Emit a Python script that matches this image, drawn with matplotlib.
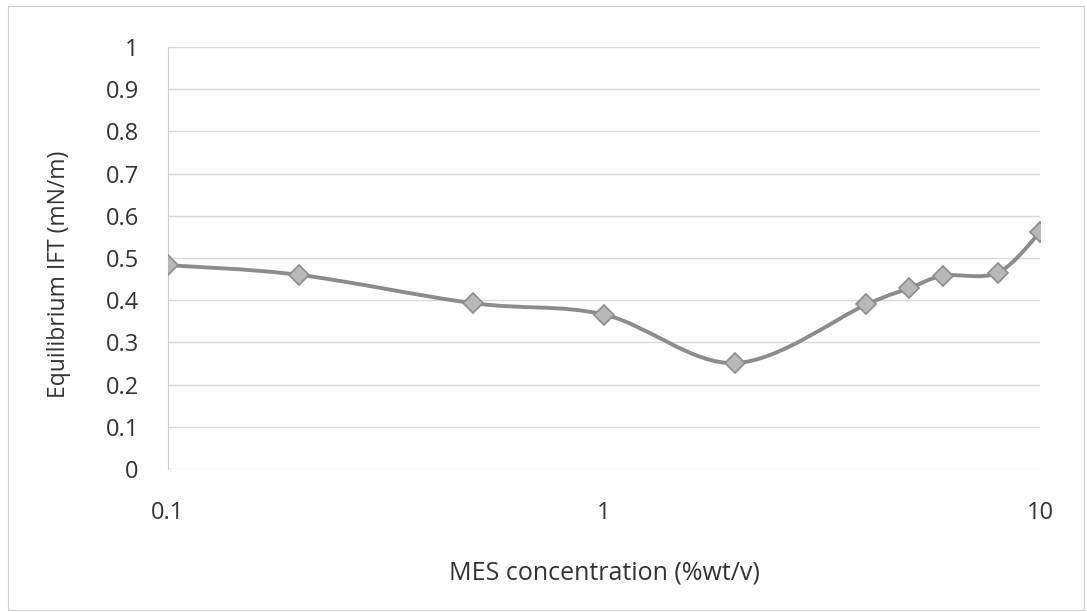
import numpy as np
import matplotlib.pyplot as plt
from matplotlib.path import Path
from matplotlib.patches import PathPatch, Rectangle

# MES concentration (%wt/v) and equilibrium IFT (mN/m)
conc = [0.1, 0.2, 0.5, 1, 2, 4, 5, 6, 8, 10]
ift = [0.483, 0.460, 0.393, 0.366, 0.251, 0.390, 0.428, 0.458, 0.465, 0.561]
yticks = [0, 0.1, 0.2, 0.3, 0.4, 0.5, 0.6, 0.7, 0.8, 0.9, 1]
ytick_labels = ['0', '0.1', '0.2', '0.3', '0.4', '0.5', '0.6', '0.7', '0.8', '0.9', '1']
xticks = [0.1, 1, 10]
xtick_labels = ['0.1', '1', '10']

plt.rcParams['font.family'] = ['Open Sans', 'DejaVu Sans']
text_color = '#333333'


def smooth_path(x, y):
    # Excel-style smoothed line: cubic Bezier segments, built in log-x space
    lx = np.log10(np.asarray(x, float))
    yy = np.asarray(y, float)
    px = np.r_[lx[0], lx, lx[-1]]
    py = np.r_[yy[0], yy, yy[-1]]
    verts = [(x[0], y[0])]
    codes = [Path.MOVETO]
    for i in range(1, len(px) - 2):
        c1 = (px[i] + (px[i + 1] - px[i - 1]) / 6, py[i] + (py[i + 1] - py[i - 1]) / 6)
        c2 = (px[i + 1] - (px[i + 2] - px[i]) / 6, py[i + 1] - (py[i + 2] - py[i]) / 6)
        verts += [(10 ** c1[0], c1[1]), (10 ** c2[0], c2[1]), (10 ** px[i + 1], py[i + 1])]
        codes += [Path.CURVE4] * 3
    return Path(verts, codes)


W, H = 1087, 612
fig = plt.figure(figsize=(W / 100, H / 100), dpi=100)
fig.patches.append(Rectangle((0.007, 0.004), 0.99, 0.986, transform=fig.transFigure,
                             fill=False, ec='#d0d0d0', lw=0.8))
# plot area: x 168..1040 px, y 47..469 px
ax = fig.add_axes([168 / W, 1 - 469 / H, 872 / W, 422 / H])
ax.set_xscale('log')

ax.add_patch(PathPatch(smooth_path(conc, ift), fc='none', ec='#8c8c8c', lw=2.8, zorder=3))
ax.plot(conc, ift, ls='none', marker='D', ms=10, mfc='#b8b8b8', mec='#8c8c8c', mew=1.2, zorder=4)

plt.setp(ax, xlim=(0.1, 10), ylim=(0, 1))
ax.set_yticks(yticks)
ax.set_yticklabels(ytick_labels)
ax.set_xticks(xticks)
ax.set_xticklabels(xtick_labels)
ax.xaxis.set_minor_locator(plt.NullLocator())
ax.grid(axis='y', color='#dadada', lw=1)
ax.set_axisbelow(True)
for side in ('top', 'right', 'bottom'):
    ax.spines[side].set_visible(False)
ax.spines['left'].set_color('#cccccc')
ax.tick_params(axis='y', length=0, pad=21, labelsize=17, labelcolor=text_color)
ax.tick_params(axis='x', length=0, pad=23, labelsize=17, labelcolor=text_color)

ax.set_xlabel('MES concentration (%wt/v)', fontsize=18, color=text_color, va='center')
ax.xaxis.set_label_coords(0.5, (469 - 573) / 422)
ax.set_ylabel('Equilibrium IFT (mN/m)', fontsize=16.5, color=text_color, va='center')
ax.yaxis.set_label_coords((59 - 168) / 872, (469 - 274) / 422)

plt.savefig('out.png', dpi=100)
